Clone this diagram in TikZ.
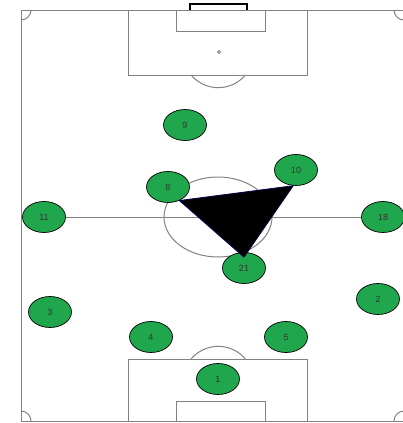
\documentclass[tikz,border=0pt]{standalone}
\usepackage{fontspec}
\setsansfont{Liberation Sans}
\usetikzlibrary{shapes.geometric}
\definecolor{campo}{RGB}{130,130,130}
\definecolor{maglia}{RGB}{32,166,76}
\tikzset{
  linea/.style={draw=campo, line width=1pt},
  giocatore/.style={ellipse, draw=black, line width=0.7pt, fill=maglia,
    minimum width=43pt, minimum height=31pt, inner sep=0pt,
    font=\sffamily\small, text=black!80}
}
\begin{document}
\begin{tikzpicture}[x=1pt, y=1pt, yscale=-1]
    \useasboundingbox (0,0) rectangle (403,423);
    % Campo
    \draw[linea] (21,10) rectangle (404,421);
    \draw[linea] (21,217) -- (404,217);
    \draw[linea] (218,217) ellipse (54 and 40);
    % Angoli
    \draw[linea] (31,10) arc (0:90:10);
    \draw[linea] (394,10) arc (180:90:10);
    \draw[linea] (21,411) arc (-90:0:10);
    \draw[linea] (404,411) arc (270:180:10);

    % Area di rigore in alto
    \draw[linea] (128,10) rectangle (307,75);
    \draw[linea] (176,10) rectangle (265,31);
    \draw[linea] (219,52) circle (1.5);
    \draw[linea] (191,75) arc (140:40:35.5);
    \draw[black, line width=2pt] (190,10) -- (190,4) -- (247,4) -- (247,10);

    % Area di rigore in basso
    \draw[linea] (128,421) -- (128,359) -- (307,359) -- (307,421);
    \draw[linea] (176,421) -- (176,401) -- (265,401) -- (265,421);
    \draw[linea] (191,359) arc (220:320:35.5);

    % Giocatori
    \node[giocatore] (p1) at (218,379) {1};
    \node[giocatore] (p2) at (378,299) {2};
    \node[giocatore] (p3) at (50,312) {3};
    \node[giocatore] (p4) at (151,337) {4};
    \node[giocatore] (p5) at (286,337) {5};
    \node[giocatore] (p8) at (168,187) {8};
    \node[giocatore] (p9) at (185,125) {9};
    \node[giocatore] (p10) at (296,170) {10};
    \node[giocatore] (p11) at (44,217) {11};
    \node[giocatore] (p18) at (383,217) {18};
    \node[giocatore] (p21) at (244,268) {21};

    % Triangolo
    \filldraw[fill=black, draw=blue!30!black, line width=0.8pt]
      (p8.-50) -- (p10.-100) -- ([yshift=5pt]p21.north) -- cycle;

\end{tikzpicture}
\end{document}
